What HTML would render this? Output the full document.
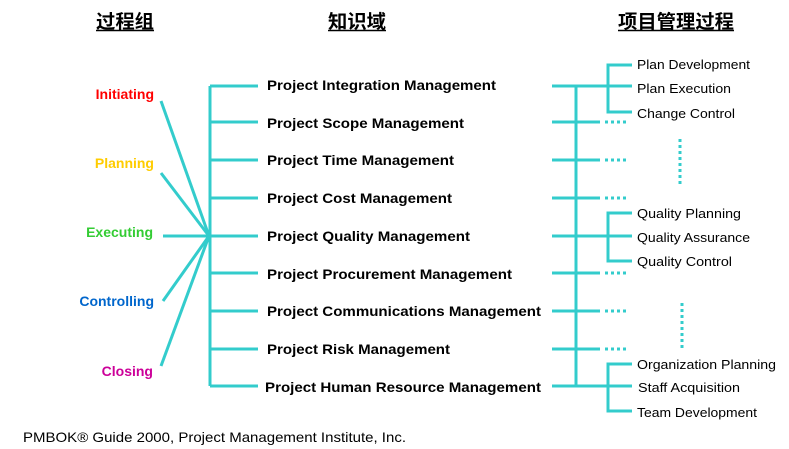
<!DOCTYPE html>
<html><head><meta charset="utf-8"><style>
html,body{margin:0;padding:0;background:#fff;}
svg{display:block;}
.k{font-family:"Liberation Sans",sans-serif;font-weight:bold;font-size:14px;fill:#000;}
.p{font-family:"Liberation Sans",sans-serif;font-size:13px;fill:#000;}
.ph{font-family:"Liberation Sans",sans-serif;font-weight:bold;font-size:14px;text-anchor:end;}
.t{font-family:"Liberation Sans","Noto Sans CJK SC",sans-serif;font-weight:bold;font-size:19px;fill:#000;}
</style></head><body>
<svg width="789" height="449" viewBox="0 0 789 449" xmlns="http://www.w3.org/2000/svg">
<g class="t">
<text x="96" y="28" textLength="58" lengthAdjust="spacingAndGlyphs">过程组</text>
<text x="328" y="28" textLength="58" lengthAdjust="spacingAndGlyphs">知识域</text>
<text x="618" y="28" textLength="116" lengthAdjust="spacingAndGlyphs">项目管理过程</text>
</g>
<g stroke="#000" stroke-width="1.5">
<line x1="96" y1="30.5" x2="154" y2="30.5"/><line x1="328" y1="30.5" x2="386" y2="30.5"/><line x1="618" y1="30.5" x2="734" y2="30.5"/>
</g>
<g stroke="#33CCCC" stroke-width="3" fill="none">
<line x1="161" y1="101" x2="209" y2="236"/>
<line x1="161" y1="173" x2="209" y2="236"/>
<line x1="163" y1="236" x2="209" y2="236"/>
<line x1="163" y1="301" x2="209" y2="236"/>
<line x1="161" y1="366" x2="209" y2="236"/>
<line x1="210" y1="86" x2="210" y2="386"/>
<line x1="210" y1="86" x2="258" y2="86"/><line x1="210" y1="122" x2="258" y2="122"/>
<line x1="210" y1="160" x2="258" y2="160"/><line x1="210" y1="198" x2="258" y2="198"/>
<line x1="210" y1="236" x2="258" y2="236"/><line x1="210" y1="273" x2="258" y2="273"/>
<line x1="210" y1="311" x2="258" y2="311"/><line x1="210" y1="349" x2="258" y2="349"/>
<line x1="210" y1="386" x2="258" y2="386"/>
<line x1="576" y1="86" x2="576" y2="386"/>
<line x1="552" y1="86" x2="632" y2="86"/>
<line x1="552" y1="122" x2="600" y2="122"/><line x1="552" y1="160" x2="600" y2="160"/>
<line x1="552" y1="198" x2="600" y2="198"/>
<line x1="552" y1="236" x2="632" y2="236"/>
<line x1="552" y1="273" x2="600" y2="273"/><line x1="552" y1="311" x2="600" y2="311"/>
<line x1="552" y1="349" x2="600" y2="349"/>
<line x1="552" y1="386" x2="632" y2="386"/>
<polyline points="632,65 608,65 608,112 632,112"/>
<polyline points="632,213 608,213 608,261 632,261"/>
<polyline points="632,364 608,364 608,411 632,411"/>
</g>
<g stroke="#33CCCC" stroke-width="3" stroke-dasharray="3,3" fill="none">
<line x1="605" y1="122" x2="628" y2="122"/><line x1="605" y1="160" x2="628" y2="160"/>
<line x1="605" y1="198" x2="628" y2="198"/><line x1="605" y1="273" x2="628" y2="273"/>
<line x1="605" y1="311" x2="628" y2="311"/><line x1="605" y1="349" x2="628" y2="349"/>
<line x1="680" y1="139" x2="680" y2="186"/><line x1="682" y1="303" x2="682" y2="350"/>
</g>
<text class="ph" x="154" y="99" fill="#FF0000">Initiating</text>
<text class="ph" x="154" y="168" fill="#FFCC00">Planning</text>
<text class="ph" x="153" y="237" fill="#33CC33">Executing</text>
<text class="ph" x="154" y="306" fill="#0066CC">Controlling</text>
<text class="ph" x="153" y="376" fill="#CC0099">Closing</text>
<g class="k">
<text x="267" y="90" textLength="229" lengthAdjust="spacingAndGlyphs">Project Integration Management</text>
<text x="267" y="128" textLength="197" lengthAdjust="spacingAndGlyphs">Project Scope Management</text>
<text x="267" y="165" textLength="187" lengthAdjust="spacingAndGlyphs">Project Time Management</text>
<text x="267" y="203" textLength="185" lengthAdjust="spacingAndGlyphs">Project Cost Management</text>
<text x="267" y="241" textLength="203" lengthAdjust="spacingAndGlyphs">Project Quality Management</text>
<text x="267" y="279" textLength="245" lengthAdjust="spacingAndGlyphs">Project Procurement Management</text>
<text x="267" y="316" textLength="274" lengthAdjust="spacingAndGlyphs">Project Communications Management</text>
<text x="267" y="354" textLength="183" lengthAdjust="spacingAndGlyphs">Project Risk Management</text>
<text x="265" y="392" textLength="276" lengthAdjust="spacingAndGlyphs">Project Human Resource Management</text>
</g>
<g class="p">
<text x="637" y="69" textLength="113" lengthAdjust="spacingAndGlyphs">Plan Development</text>
<text x="637" y="93" textLength="94" lengthAdjust="spacingAndGlyphs">Plan Execution</text>
<text x="637" y="118" textLength="98" lengthAdjust="spacingAndGlyphs">Change Control</text>
<text x="637" y="218" textLength="104" lengthAdjust="spacingAndGlyphs">Quality Planning</text>
<text x="637" y="242" textLength="113" lengthAdjust="spacingAndGlyphs">Quality Assurance</text>
<text x="637" y="266" textLength="95" lengthAdjust="spacingAndGlyphs">Quality Control</text>
<text x="637" y="369" textLength="139" lengthAdjust="spacingAndGlyphs">Organization Planning</text>
<text x="638" y="392" textLength="102" lengthAdjust="spacingAndGlyphs">Staff Acquisition</text>
<text x="637" y="417" textLength="120" lengthAdjust="spacingAndGlyphs">Team Development</text>
</g>
<text x="23" y="442" font-family="Liberation Sans, sans-serif" font-size="14" fill="#000" textLength="383" lengthAdjust="spacingAndGlyphs">PMBOK® Guide 2000, Project Management Institute, Inc.</text>
</svg>
</body></html>
